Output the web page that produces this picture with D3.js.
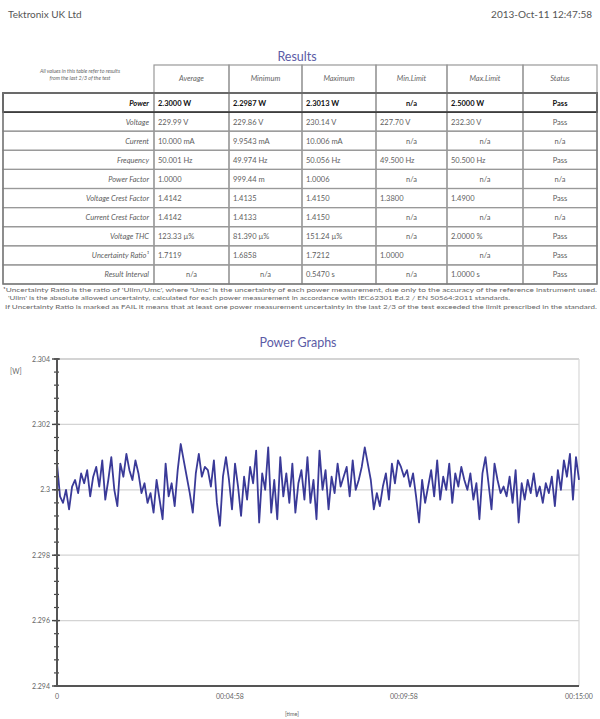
<!DOCTYPE html>
<html><head><meta charset="utf-8">
<script src="https://cdn.jsdelivr.net/npm/d3@7"></script>
<style>body{margin:0;background:#fff}svg{display:block}</style>
</head><body>
<svg id="c" width="600" height="719"></svg>
<script>
// ---------- DATA ----------
const columns = ["Average","Minimum","Maximum","Min.Limit","Max.Limit","Status"];
const rowLabels = ["Power","Voltage","Current","Frequency","Power Factor","Voltage Crest Factor","Current Crest Factor","Voltage THC","Uncertainty Ratio\u00b9","Result Interval"];
const averages = ["2.3000 W","229.99 V","10.000 mA","50.001 Hz","1.0000","1.4142","1.4142","123.33 \u00b5%","1.7119","n/a"];
const minimums = ["2.2987 W","229.86 V","9.9543 mA","49.974 Hz","999.44 m","1.4135","1.4133","81.390 \u00b5%","1.6858","n/a"];
const maximums = ["2.3013 W","230.14 V","10.006 mA","50.056 Hz","1.0006","1.4150","1.4150","151.24 \u00b5%","1.7212","0.5470 s"];
const minLimits = ["n/a","227.70 V","n/a","49.500 Hz","n/a","1.3800","n/a","n/a","1.0000","n/a"];
const maxLimits = ["2.5000 W","232.30 V","n/a","50.500 Hz","n/a","1.4900","n/a","2.0000 %","n/a","1.0000 s"];
const statuses = ["Pass","Pass","n/a","Pass","n/a","Pass","n/a","Pass","Pass","Pass"];
const footnotes = [
 "\u00b9Uncertainty Ratio is the ratio of 'Ulim/Umc', where 'Umc' is the uncertainty of each power measurement, due only to the accuracy of the reference instrument used.",
 "'Ulim' is the absolute allowed uncertainty, calculated for each power measurement in accordance with IEC62301 Ed.2 / EN 50564:2011 standards.",
 "If Uncertainty Ratio is marked as FAIL it means that at least one power measurement uncertainty in the last 2/3 of the test exceeded the limit prescribed in the standard."
];
const powerValues = [
 2.3008,2.2998,2.2996,2.3000,2.2994,2.3001,2.3003,2.2999,2.3005,2.3002,2.3006,2.2998,2.3004,2.3007,2.3001,2.3009,2.2997,2.3003,2.3010,2.3000,2.2995,
 2.3008,2.3004,2.3011,2.3006,2.3003,2.3009,2.3005,2.2999,2.3002,2.2996,2.2999,2.2993,2.3003,2.2997,2.2991,2.3008,2.2998,2.3002,2.2995,2.3006,
 2.3014,2.3009,2.3004,2.2999,2.2993,2.3005,2.3011,2.3004,2.3007,2.3006,2.3001,2.3009,2.2996,2.2989,2.3004,2.3010,2.3003,2.2994,2.3008,2.3001,
 2.2992,2.3004,2.2997,2.3007,2.3002,2.3012,2.2990,2.3005,2.3000,2.3013,2.2993,2.3003,2.2991,2.3010,2.2998,2.3005,2.2996,2.3008,2.2993,2.3002,
 2.3006,2.2997,2.3010,2.2996,2.3003,2.2991,2.3012,2.3000,2.3006,2.2994,2.3004,2.2999,2.3008,2.3001,2.3004,2.3007,2.2998,2.3009,2.3000,2.3003,
 2.3007,2.3013,2.3008,2.3003,2.2994,2.2999,2.2995,2.3001,2.3005,2.2997,2.3008,2.3002,2.3009,2.3007,2.3004,2.3006,2.3001,2.3005,2.2998,2.2990,
 2.3003,2.2996,2.3001,2.3006,2.2998,2.3009,2.2997,2.3004,2.3000,2.3008,2.2996,2.3005,2.3001,2.3007,2.3003,2.3000,2.3005,2.2997,2.3002,2.2991,
 2.3005,2.3010,2.3002,2.2994,2.3008,2.3003,2.2999,2.3001,2.2998,2.3004,2.2996,2.3006,2.2990,2.3002,2.2997,2.3003,2.2999,2.3005,2.2998,2.3001,
 2.2996,2.3002,2.2999,2.3004,2.2995,2.3006,2.3000,2.3009,2.3004,2.3011,2.2997,2.3010,2.3003
];
const testDuration = 900; // seconds
const yTicks = [2.294,2.296,2.298,2.3,2.302,2.304];
const yTickLabels = ["2.294","2.296","2.298","2.3","2.302","2.304"];
const xTicks = [0,298,598,900];
const xTickLabels = ["0","00:04:58","00:09:58","00:15:00"];

// ---------- DRAW ----------
const svg = d3.select("#c");
const F = "Lato, 'Open Sans', sans-serif";
const titleCol = "#5b5ba6";

svg.append("text").attr("x",8).attr("y",18).attr("font-family",F).attr("font-size",10).attr("fill","#555").text("Tektronix UK Ltd");
svg.append("text").attr("x",592).attr("y",18).attr("text-anchor","end").attr("font-family",F).attr("font-size",10).attr("fill","#555").text("2013-Oct-11 12:47:58");
svg.append("text").attr("x",297).attr("y",61).attr("text-anchor","middle").attr("font-family",F).attr("font-size",12.5).attr("fill",titleCol).text("Results");

// table
const colEdges = [3,154,229,302,376,447,523,597];
const rowY = d3.scaleBand().domain(d3.range(rowLabels.length)).range([93,284]);
const headTop = 65;
const tbl = svg.append("g");
const colData = [averages,minimums,maximums,minLimits,maxLimits,statuses];

columns.forEach((c,i)=>{
  tbl.append("rect").attr("x",colEdges[i+1]).attr("y",headTop).attr("width",colEdges[i+2]-colEdges[i+1]).attr("height",93-headTop)
    .attr("fill","none").attr("stroke","#999").attr("stroke-width",1.2);
  tbl.append("text").attr("x",(colEdges[i+1]+colEdges[i+2])/2).attr("y",81).attr("text-anchor","middle")
    .attr("font-family",F).attr("font-size",7.5).attr("font-style","italic").attr("fill","#666").text(c);
});
tbl.append("text").attr("x",80).attr("y",73).attr("text-anchor","middle").attr("font-family",F).attr("font-size",5.3).attr("font-style","italic").attr("fill","#666").text("All values in this table refer to results");
tbl.append("text").attr("x",80).attr("y",80).attr("text-anchor","middle").attr("font-family",F).attr("font-size",5.3).attr("font-style","italic").attr("fill","#666").text("from the last 2/3 of the test");

rowLabels.forEach((lab,r)=>{
  const y0 = rowY(r), h = rowY.bandwidth(), bold = r===0;
  const col = bold ? "#111" : "#606060";
  for(let i=0;i<7;i++){
    tbl.append("rect").attr("x",colEdges[i]).attr("y",y0).attr("width",colEdges[i+1]-colEdges[i]).attr("height",h)
      .attr("fill","none").attr("stroke","#999").attr("stroke-width",1.2);
  }
  const ty = y0 + h/2 + 3;
  tbl.append("text").attr("x",colEdges[1]-5).attr("y",ty).attr("text-anchor","end").attr("font-family",F)
    .attr("font-size",7.5).attr("font-style","italic").attr("font-weight",bold?"bold":"normal").attr("fill",col).text(lab);
  colData.forEach((arr,i)=>{
    const v = arr[r];
    const centered = (v==="n/a") || i===5;
    tbl.append("text")
      .attr("x", centered ? (colEdges[i+1]+colEdges[i+2])/2 : colEdges[i+1]+4)
      .attr("y",ty).attr("text-anchor",centered?"middle":"start").attr("font-family",F)
      .attr("font-size",7.5).attr("font-weight",bold?"bold":"normal").attr("fill",col).text(v);
  });
});
tbl.append("rect").attr("x",colEdges[0]).attr("y",rowY(0)).attr("width",colEdges[7]-colEdges[0]).attr("height",rowY.bandwidth())
  .attr("fill","none").attr("stroke","#333").attr("stroke-width",1.6);
tbl.append("rect").attr("x",colEdges[0]).attr("y",rowY(0)).attr("width",colEdges[7]-colEdges[0]).attr("height",284-rowY(0))
  .attr("fill","none").attr("stroke","#777").attr("stroke-width",1.4);

// footnotes
const fnX = [3,8,5], fnW = [594,502,592], fnY=[292,300,309];
footnotes.forEach((t,i)=>{
  svg.append("text").attr("x",fnX[i]).attr("y",fnY[i]).attr("font-family",F).attr("font-size",5.5).attr("fill","#666")
    .attr("textLength",fnW[i]).attr("lengthAdjust","spacingAndGlyphs").text(t);
});

svg.append("text").attr("x",298).attr("y",347).attr("text-anchor","middle").attr("font-family",F).attr("font-size",12.5).attr("fill",titleCol).text("Power Graphs");

// chart
const x = d3.scaleLinear().domain([0,testDuration]).range([57,579]);
const y = d3.scaleLinear().domain([2.294,2.304]).range([686,359]);
const g = svg.append("g");
g.selectAll(".grid").data(yTicks.slice(1)).join("line")
  .attr("x1",60).attr("x2",579).attr("y1",d=>y(d)).attr("y2",d=>y(d))
  .attr("stroke","#d4d4d4").attr("stroke-width",d=>d===2.304?1.8:1.3);
g.append("line").attr("x1",579).attr("x2",579).attr("y1",y(2.304)).attr("y2",y(2.294)).attr("stroke","#d8d8d8").attr("stroke-width",1.2);

const line = d3.line().x((d,i)=>x(i*testDuration/(powerValues.length-1))).y(d=>y(d));
g.append("path").datum(powerValues).attr("d",line).attr("fill","none").attr("stroke","#3a3a98").attr("stroke-width",1.8).attr("stroke-linejoin","round");

const minor = d3.range(2.294,2.30401,0.0004);
g.selectAll(".mt").data(minor).join("line").attr("x1",54).attr("x2",59).attr("y1",d=>y(d)).attr("y2",d=>y(d)).attr("stroke","#444").attr("stroke-width",1.2);
g.selectAll(".Mt").data(yTicks).join("line").attr("x1",52).attr("x2",60).attr("y1",d=>y(d)).attr("y2",d=>y(d)).attr("stroke","#444").attr("stroke-width",1.4);
g.append("line").attr("x1",57).attr("x2",57).attr("y1",y(2.304)-1).attr("y2",y(2.294)+1).attr("stroke","#555").attr("stroke-width",2);
g.selectAll(".yl").data(yTicks).join("text").attr("x",50).attr("y",d=>y(d)+2.5).attr("text-anchor","end")
  .attr("font-family",F).attr("font-size",7).attr("fill","#666").text((d,i)=>yTickLabels[i]);
g.append("text").attr("x",10).attr("y",374).attr("font-family",F).attr("font-size",7).attr("fill","#666").text("[W]");

g.append("line").attr("x1",57).attr("x2",579).attr("y1",686).attr("y2",686).attr("stroke","#555").attr("stroke-width",2);
g.selectAll(".xl").data(xTicks).join("text").attr("x",d=>x(d)).attr("y",699).attr("text-anchor","middle")
  .attr("font-family",F).attr("font-size",7).attr("fill","#666").text((d,i)=>xTickLabels[i]);
g.append("text").attr("x",292).attr("y",716).attr("text-anchor","middle").attr("font-family",F).attr("font-size",5.5).attr("fill","#666").text("[time]");
</script>
</body></html>
